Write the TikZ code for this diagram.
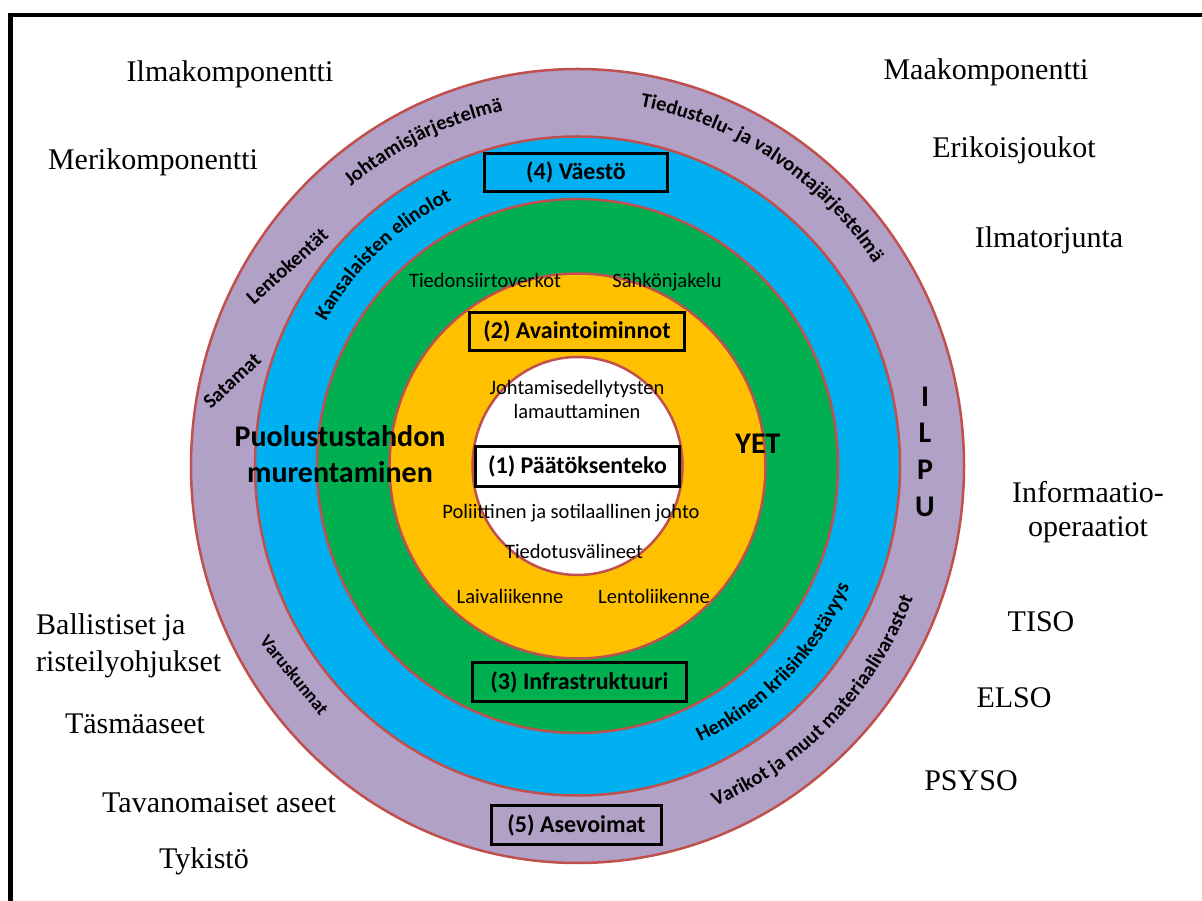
\documentclass[tikz,border=0pt]{standalone}
\usepackage{fontspec}
\setmainfont{Liberation Serif}
\newfontfamily\calfont{Carlito}
\usetikzlibrary{decorations.text}
\definecolor{ringline}{HTML}{C0504D}
\definecolor{cpurple}{HTML}{B2A1C7}
\definecolor{cblue}{HTML}{00B0F0}
\definecolor{cgreen}{HTML}{00B050}
\definecolor{cyellow}{HTML}{FFC000}
\newcommand\arcfont{\calfont\bfseries\fontsize{20.5}{20.5}\selectfont}
\newcommand\arctext[6]{%
  \path[decorate, decoration={text along path, text align=center, text={|#5|#6}}]
    (C) ++({#1+#2}:#3 and #4) arc[start angle={#1+#2}, end angle={#1-#2}, x radius=#3, y radius=#4];}
\begin{document}
\begin{tikzpicture}[x=1pt,y=1pt,
  ring/.style={draw=ringline, line width=2.5pt},
  serif/.style={font=\fontsize{30}{30}\selectfont, inner sep=0pt, anchor=base},
  sm/.style={font=\calfont\fontsize{20.5}{20.5}\selectfont, inner sep=0pt, anchor=base},
  bigb/.style={font=\calfont\bfseries\fontsize{30}{30}\selectfont, inner sep=0pt, anchor=base},
  letter/.style={font=\calfont\bfseries\fontsize{30}{30}\selectfont, inner sep=0pt},
  ringlabel/.style={font=\arcfont, inner sep=0pt},
  boxn/.style={draw=black, line width=3pt, inner sep=0pt, font=\calfont\bfseries\fontsize{24}{24}\selectfont}]
\useasboundingbox (0,0) rectangle (1202,900);
\coordinate (C) at (577.5,434);
% frame
\draw[line width=4.5pt, line join=miter] (10.5,-10) -- (10.5,885) -- (1215,885);
% rings
\path[ring, fill=cpurple] (C) ellipse [x radius=386.5, y radius=397];
\path[ring, fill=cblue] (C) ellipse [x radius=322.5, y radius=329.5];
\path[ring, fill=cgreen] (C) ellipse [x radius=260.5, y radius=267];
\path[ring, fill=cyellow] (C) ellipse [x radius=188, y radius=192.5];
\path[ring, fill=white] (C) ellipse [x radius=105, y radius=109];
% boxes
\node[boxn, fill=cblue, minimum width=183pt, minimum height=38pt] (b4) at (576,727.5) {(4) Väestö};
\node[boxn, fill=cyellow, minimum width=215pt, minimum height=38pt] (b2) at (577,568.5) {(2) Avaintoiminnot};
\node[boxn, fill=white, minimum width=204pt, minimum height=40pt] (b1) at (577.5,433.5) {(1) Päätöksenteko};
\node[boxn, fill=cgreen, minimum width=214pt, minimum height=39pt] (b3) at (579.5,218) {(3) Infrastruktuuri};
\node[boxn, fill=cpurple, minimum width=170pt, minimum height=39pt] (b5) at (576.5,75) {(5) Asevoimat};
% inner texts
\node[sm] (t1) at (485,612) {Tiedonsiirtoverkot};
\node[sm] (t2) at (667,612) {Sähkönjakelu};
\node[sm] (t3) at (577,505) {Johtamisedellytysten};
\node[sm] (t4) at (577,481) {lamauttaminen};
\node[sm] (t5) at (571,381) {Poliittinen ja sotilaallinen johto};
\node[sm] (t6) at (574,341) {Tiedotusvälineet};
\node[sm] (t7) at (510,296) {Laivaliikenne};
\node[sm] (t8) at (654,296) {Lentoliikenne};
\node[bigb] (p1) at (340,453) {Puolustustahdon};
\node[bigb] (p2) at (340,417) {murentaminen};
\node[bigb] (yet) at (758,446) {YET};
\node[letter] (l1) at (925,503) {I};
\node[letter] (l2) at (925,467) {L};
\node[letter] (l3) at (925,430) {P};
\node[letter] (l4) at (925,393) {U};
% ring labels
\arctext{115.7}{45}{354}{363}{\arcfont}{Johtamisjärjestelmä}
\arctext{57}{45}{356}{365}{\arcfont}{Tiedustelu- ja valvontajärjestelmä}
\arctext{-44.5}{-45}{359.5}{368}{\arcfont}{Varikot ja muut materiaalivarastot}
\arctext{133}{45}{288.5}{295}{\arcfont}{Kansalaisten elinolot}
\arctext{-44.7}{-45}{296.5}{303}{\arcfont}{Henkinen kriisinkestävyys}
\node[ringlabel, rotate=42] (lk) at (287,634) {Lentokentät};
\node[ringlabel, rotate=43] (sa) at (232,519) {Satamat};
\node[ringlabel, rotate=-51, font=\calfont\bfseries\fontsize{18.5}{18.5}\selectfont] (vk) at (294.5,225) {Varuskunnat};
% outer texts
\node[serif] (o1) at (230,818) {Ilmakomponentti};
\node[serif] (o2) at (153,730) {Merikomponentti};
\node[serif] (o3) at (986,820) {Maakomponentti};
\node[serif] (o4) at (1014,742) {Erikoisjoukot};
\node[serif] (o5) at (1049,652) {Ilmatorjunta};
\node[serif] (o6) at (1088,397) {Informaatio-};
\node[serif] (o7) at (1088,363) {operaatiot};
\node[serif] (o8) at (1041,268) {TISO};
\node[serif] (o9) at (1014,192) {ELSO};
\node[serif] (o10) at (971,110) {PSYSO};
\node[serif, anchor=base west] (o11) at (36,265) {Ballistiset ja};
\node[serif, anchor=base west] (o12) at (36,228) {risteilyohjukset};
\node[serif] (o13) at (135,167) {Täsmäaseet};
\node[serif] (o14) at (219,88) {Tavanomaiset aseet};
\node[serif] (o15) at (204,32) {Tykistö};
\end{tikzpicture}
\end{document}
